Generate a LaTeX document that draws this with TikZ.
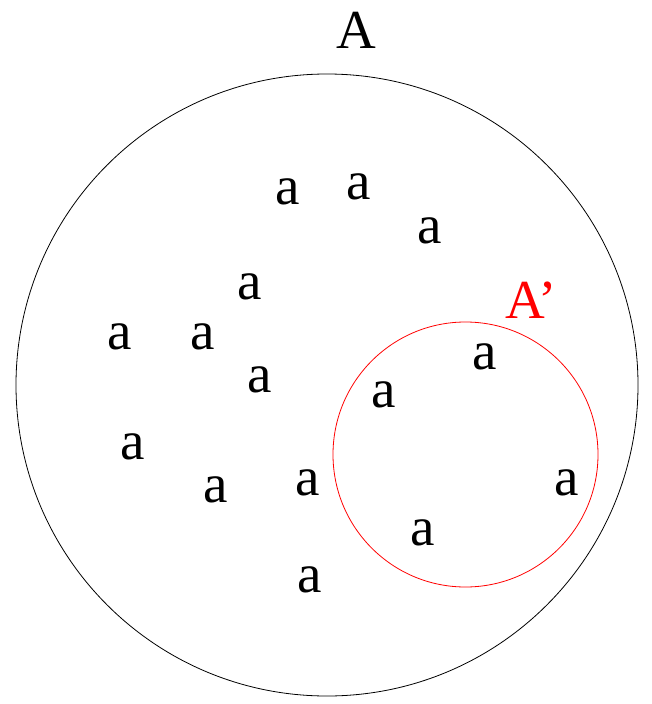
\documentclass[tikz,border=0pt]{standalone}
\usepackage{fontspec}
\setmainfont{Liberation Serif}
\usepackage{xcolor}
\usepackage{tikz}
\usetikzlibrary{positioning}

\begin{document}
\begin{tikzpicture}[x=1pt,y=-1pt]

%--------------------------------------------------
% STYLES
%--------------------------------------------------

\tikzset{
elem/.style={
inner sep=0pt,
font=\fontsize{55}{60}\selectfont
},
setlabel/.style={
inner sep=0pt,
font=\fontsize{55}{60}\selectfont
}
}

\useasboundingbox (0,0) rectangle (651,704);

%--------------------------------------------------
% SETS
%--------------------------------------------------

\draw[line width=0.8pt] (327,385) circle (311);

\draw[red,line width=0.8pt] (465.5,454.5) circle (132.5);

\node[setlabel] (setA) at (356,30)
{A};

\node[setlabel,red] (subA) at (531,300)
{A'};

%--------------------------------------------------
% ELEMENTS OUTSIDE A'
%--------------------------------------------------

\node[elem] (a1) at (288,192) {a};
\node[elem] (a2) at (359,187) {a};
\node[elem] (a3) at (430,231) {a};
\node[elem] (a4) at (250,287) {a};
\node[elem] (a5) at (120,337) {a};
\node[elem] (a6) at (203,337) {a};
\node[elem] (a7) at (260,380) {a};
\node[elem] (a8) at (133,447) {a};
\node[elem] (a9) at (216,490) {a};
\node[elem] (a10) at (308,483) {a};
\node[elem] (a11) at (310,580) {a};

%--------------------------------------------------
% ELEMENTS INSIDE A'
%--------------------------------------------------

\node[elem] (b1) at (485,357) {a};
\node[elem] (b2) at (384,395) {a};
\node[elem] (b3) at (567,483) {a};
\node[elem] (b4) at (423,533) {a};

\end{tikzpicture}
\end{document}
